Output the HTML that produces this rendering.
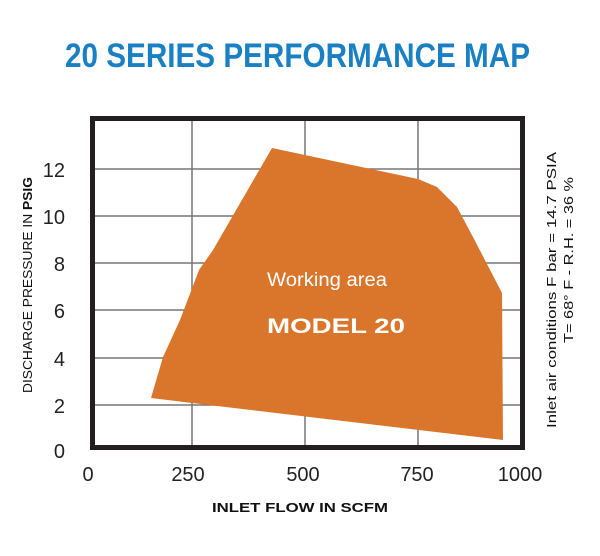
<!DOCTYPE html>
<html><head><style>body{margin:0;background:#fff}svg{display:block}</style></head>
<body>
<svg width="600" height="556" viewBox="0 0 600 556" xmlns="http://www.w3.org/2000/svg" font-family="Liberation Sans, sans-serif">
<text x="65" y="67" font-size="34" font-weight="bold" fill="#1a80c4" textLength="465" lengthAdjust="spacingAndGlyphs">20 SERIES PERFORMANCE MAP</text>
<g stroke="#777" stroke-width="1.5">
<line x1="92" y1="169" x2="522" y2="169"/><line x1="92" y1="216" x2="522" y2="216"/>
<line x1="92" y1="263" x2="522" y2="263"/><line x1="92" y1="310" x2="522" y2="310"/>
<line x1="92" y1="358" x2="522" y2="358"/><line x1="92" y1="405" x2="522" y2="405"/>
<line x1="192" y1="118" x2="192" y2="449"/><line x1="305" y1="118" x2="305" y2="449"/>
<line x1="418" y1="118" x2="418" y2="449"/>
</g>
<polygon fill="#d9762c" points="151,398 163,357 180,320 199,270 213,250 272,148 418,179 437,187 457,207 473,237 502,293 503,440 192,403"/>
<rect x="92.5" y="118.5" width="430" height="329" fill="none" stroke="#231f20" stroke-width="5"/>
<g font-size="20" fill="#222" text-anchor="middle">
<text x="88" y="481">0</text><text x="188" y="481">250</text><text x="303" y="481">500</text><text x="417" y="481">750</text><text x="520" y="481">1000</text>
</g>
<g font-size="20" fill="#222" text-anchor="end">
<text x="65" y="177">12</text><text x="65" y="224">10</text><text x="65" y="271">8</text><text x="65" y="318">6</text><text x="65" y="366">4</text><text x="65" y="413">2</text><text x="65" y="458">0</text>
</g>
<text x="300" y="512" font-size="13" font-weight="bold" text-anchor="middle" fill="#111" textLength="176" lengthAdjust="spacingAndGlyphs">INLET FLOW IN SCFM</text>
<text transform="translate(32,285) rotate(-90)" font-size="13" text-anchor="middle" fill="#111" textLength="216" lengthAdjust="spacingAndGlyphs">DISCHARGE PRESSURE IN <tspan font-weight="bold">PSIG</tspan></text>
<text transform="translate(556,290) rotate(-90)" font-size="13" text-anchor="middle" fill="#111" textLength="276" lengthAdjust="spacingAndGlyphs">Inlet air conditions  F bar = 14.7 PSIA</text>
<text transform="translate(573,260) rotate(-90)" font-size="13" text-anchor="middle" fill="#111" textLength="166" lengthAdjust="spacingAndGlyphs">T= 68° F - R.H. = 36 %</text>
<text x="267" y="286" font-size="19" fill="#fff" textLength="120" lengthAdjust="spacingAndGlyphs">Working area</text>
<text x="267" y="333" font-size="21" font-weight="bold" fill="#fff" textLength="138" lengthAdjust="spacingAndGlyphs">MODEL  20</text>
</svg>
</body></html>
